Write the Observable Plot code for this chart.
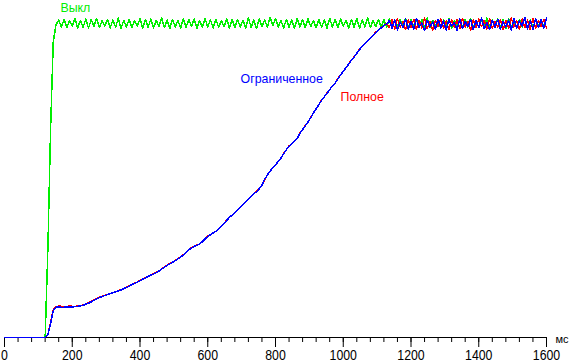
<!DOCTYPE html>
<html>
<head>
<meta charset="utf-8">
<script src="https://cdn.jsdelivr.net/npm/d3@7"></script>
<script src="https://cdn.jsdelivr.net/npm/@observablehq/plot@0.6"></script>
<style>
  html, body { margin: 0; padding: 0; background: #fff; }
  svg { display: block; }
</style>
</head>
<body>
<script>
// Sampling grid: one value every 8 ms, starting at 0 ms
const stepMs = 8;

// Series names
const seriesNames = ["Выкл", "Полное", "Ограниченное"];

// "Выкл" (green)
const offValues = [
  0,0,0,0,0,0,0,0,0,0,0,0,0,0,0,0,
  28, 66, 94, 99.2, 100.8,
  98.6, 101.0, 98.4, 100.7, 98.9, 101.2, 98.3, 100.6, 98.5, 101.1,
  98.2, 100.9, 98.7, 101.3, 98.4, 100.5, 98.8, 101.0, 98.3, 100.8,
  98.5, 101.4, 98.1, 100.7, 98.6, 101.0, 98.4, 100.6, 98.9, 101.2,
  98.2, 100.9, 98.5, 101.1, 98.3, 100.7, 98.7, 101.5, 98.4, 100.8,
  98.1, 101.0, 98.6, 100.6, 98.3, 101.2, 98.5, 100.9, 98.8, 101.1,
  98.2, 100.7, 98.4, 101.3, 98.6, 100.8, 98.3, 101.0, 98.5, 100.6,
  98.7, 101.2, 98.2, 100.9, 98.4, 101.0, 98.6, 100.7, 98.3, 101.4,
  98.5, 100.8, 98.1, 101.1, 98.7, 100.9, 98.4, 101.6, 99.0, 101.2,
  98.6, 100.7, 98.3, 101.0, 98.5, 100.8, 98.2, 101.2, 98.6, 100.9,
  98.4, 101.1, 98.7, 100.6, 98.3, 101.0, 98.5, 100.8, 98.2, 101.3,
  98.6, 100.9, 98.4, 101.1, 98.8, 100.7, 98.3, 101.0, 98.5, 101.2,
  98.2, 100.8, 98.6, 101.4, 98.4, 100.6, 98.7, 101.0, 98.3, 100.9,
  98.5, 101.2, 98.1, 100.7, 98.6, 101.0, 98.4, 101.3, 98.2, 100.8,
  98.7, 101.1, 98.3, 100.9, 98.5, 101.5, 98.4, 100.7, 98.6, 101.0,
  98.2, 100.8, 98.5, 101.2, 98.3, 100.6, 98.8, 101.1, 98.4, 100.9,
  98.6, 101.3, 98.2, 100.7, 98.5, 101.0, 98.3, 101.4, 98.7, 100.8,
  98.4, 101.1, 98.6, 100.9, 98.1, 101.2, 98.5, 100.7, 98.3, 101.0,
  98.6, 101.5, 98.4, 100.8, 98.2, 101.1, 98.7, 100.9, 98.5, 101.2
];

// "Полное" (red)
const fullValues = [
  0,0,0,0,0,0,0,0,0,0,0,0,0,0,0,0,
  0.9, 4.8, 8.8, 9.8, 10.0, 9.9, 9.7, 9.8, 10.0, 9.9,
  9.8, 10.0, 10.1, 10.3, 10.7, 11.0, 11.5, 11.9, 12.3, 12.8,
  13.1, 13.3, 13.7, 13.9, 14.3, 14.5, 14.9, 15.2, 15.5, 16.0,
  16.4, 16.8, 17.3, 17.6, 18.1, 18.5, 19.0, 19.4, 19.9, 20.2,
  20.7, 21.2, 21.7, 22.4, 22.9, 23.5, 23.9, 24.5, 25.0, 25.6,
  26.3, 27.0, 27.9, 28.5, 28.9, 29.4, 29.7, 30.5, 31.3, 32.2,
  32.6, 33.3, 33.7, 34.5, 35.2, 36.3, 37.2, 38.2, 38.9, 39.7,
  40.4, 41.4, 42.2, 43.1, 43.8, 44.9, 45.6, 46.4, 47.2, 48.5,
  50.1, 51.7, 52.8, 54.0, 54.8, 56.0, 56.9, 58.4, 59.6, 60.8,
  61.4, 62.4, 63.2, 64.9, 66.0, 67.3, 68.4, 69.9, 71.3, 72.7,
  73.9, 75.4, 76.4, 77.6, 78.7, 79.9, 80.8, 82.2, 83.3, 84.6,
  85.6, 86.9, 88.0, 89.1, 90.2, 91.5, 92.5, 93.4, 94.2, 95.1,
  96.0, 96.9, 97.6, 98.4, 99.0, 99.7,
  98.4, 100.8, 98.0, 101.2, 98.6, 100.3, 97.7, 100.9, 98.5, 101.0,
  97.9, 100.6, 98.3, 101.4, 98.1, 100.2, 97.6, 100.7, 98.8, 101.1,
  98.2, 100.5, 97.8, 101.0, 98.4, 100.9, 98.0, 101.3, 98.6, 100.4,
  97.5, 100.8, 98.3, 101.1, 98.7, 100.6, 97.9, 101.2, 98.1, 100.3,
  98.5, 101.0, 97.7, 100.7, 98.2, 101.4, 98.6, 100.5, 98.0, 101.1,
  98.4, 100.8, 97.8, 101.3, 98.3, 100.6, 98.7, 101.0, 98.2
];

// "Ограниченное" (blue)
const limitedValues = [
  0,0,0,0,0,0,0,0,0,0,0,0,0,0,0,0,
  0.8, 4.5, 8.5, 9.6, 9.7, 9.6, 9.6, 9.7, 9.6, 9.7,
  9.8, 9.9, 10.0, 10.2, 10.6, 10.9, 11.3, 11.8, 12.3, 12.7,
  13.0, 13.3, 13.6, 13.9, 14.2, 14.5, 14.8, 15.1, 15.5, 15.9,
  16.3, 16.8, 17.2, 17.6, 18.0, 18.5, 18.9, 19.4, 19.8, 20.2,
  20.6, 21.1, 21.7, 22.3, 22.9, 23.4, 23.9, 24.4, 25.0, 25.5,
  26.2, 27.0, 27.8, 28.4, 28.9, 29.3, 29.7, 30.4, 31.3, 32.1,
  32.6, 33.2, 33.7, 34.4, 35.3, 36.2, 37.2, 38.1, 38.9, 39.6,
  40.4, 41.3, 42.2, 43.0, 43.8, 44.8, 45.6, 46.3, 47.2, 48.4,
  50.2, 51.6, 52.8, 53.9, 54.8, 55.9, 56.9, 58.3, 59.6, 60.7,
  61.4, 62.3, 63.2, 64.8, 66.0, 67.2, 68.4, 69.8, 71.3, 72.6,
  73.9, 75.3, 76.4, 77.5, 78.7, 79.8, 80.8, 82.1, 83.3, 84.5,
  85.6, 86.8, 88.0, 89.0, 90.2, 91.4, 92.5, 93.3, 94.2, 95.0,
  96.0, 96.8, 97.6, 98.3, 99.0, 99.6,
  100.6, 98.2, 100.9, 97.6, 100.2, 98.4, 101.1, 97.8, 100.4, 98.0,
  101.3, 98.5, 99.8, 97.4, 100.7, 98.6, 100.1, 97.9, 101.0, 98.3,
  100.5, 97.6, 100.8, 98.8, 100.0, 97.5, 101.2, 98.1, 100.3, 98.7,
  100.9, 97.7, 100.6, 98.4, 101.4, 98.0, 99.9, 97.8, 100.7, 98.5,
  101.0, 97.9, 100.2, 98.6, 100.8, 97.6, 101.1, 98.3, 100.4, 98.9,
  101.6, 98.0, 100.5, 97.8, 101.3, 98.4, 100.9, 98.2, 101.5
];

// Axis ticks (ms)
const majorTicks = [0, 200, 400, 600, 800, 1000, 1200, 1400, 1600];
const minorTicks = d3.range(0, 1601, 40);
const axisUnit = "мс";

// Build tidy rows for Plot
function rows(values, name) {
  return values.map((v, i) => ({t: i * stepMs, v, name}));
}
const data = [
  ...rows(offValues, seriesNames[0]),
  ...rows(fullValues, seriesNames[1]),
  ...rows(limitedValues, seriesNames[2])
];
const colors = {"Выкл": "#00ee00", "Полное": "#ff0000", "Ограниченное": "#0000ff"};

// Label anchor points (ms, value)
const labelAnchors = [
  {name: "Выкл", t: 165, v: 103.2},
  {name: "Ограниченное", t: 697, v: 80.8},
  {name: "Полное", t: 992, v: 75.2}
];

const lineOpts = {x: "t", y: "v", strokeWidth: 1.5, shapeRendering: "crispEdges"};

const chart = Plot.plot({
  width: 569,
  height: 363,
  marginLeft: 4,
  marginRight: 23,
  marginTop: 22,
  marginBottom: 26,
  style: {fontFamily: "'Liberation Sans', Arial, sans-serif", background: "#fff", color: "#000", overflow: "visible"},
  x: {domain: [0, 1600]},
  y: {domain: [0, 100], axis: null},
  marks: [
    Plot.ruleY([0], {stroke: "#000"}),
    Plot.axisX({ticks: minorTicks, tickSize: 5, tickFormat: () => "", label: null, stroke: "#000"}),
    Plot.axisX({ticks: majorTicks, tickSize: 10, tickPadding: 3, fontSize: 14, tickFormat: d => String(d), label: null, stroke: "#000", fill: "#000"}),
    Plot.text([axisUnit], {x: 1600, y: 0, dx: 9, dy: 5.5, text: d => d, textAnchor: "start", lineAnchor: "bottom", fontSize: 11, fill: "#000"}),
    Plot.line(data.filter(d => d.name === "Выкл"), {...lineOpts, stroke: colors["Выкл"]}),
    Plot.line(data.filter(d => d.name === "Полное"), {...lineOpts, stroke: colors["Полное"]}),
    Plot.line(data.filter(d => d.name === "Ограниченное"), {...lineOpts, stroke: colors["Ограниченное"]}),
    Plot.text(labelAnchors, {x: "t", y: "v", text: "name", fill: d => colors[d.name], textAnchor: "start", lineAnchor: "bottom", fontSize: 13})
  ]
});
document.body.appendChild(chart);

// Narrow the text horizontally to match the condensed look of the original
chart.querySelectorAll("text").forEach(el => {
  const s = el.textContent;
  if (!s || el.querySelector("tspan")) return;
  const fs = parseFloat(getComputedStyle(el).fontSize);
  const k = fs >= 14 ? 0.88 : fs >= 13 ? 0.95 : 1;
  if (k === 1) return;
  const len = el.getComputedTextLength();
  el.setAttribute("textLength", (len * k).toFixed(2));
  el.setAttribute("lengthAdjust", "spacingAndGlyphs");
});
</script>
</body>
</html>
